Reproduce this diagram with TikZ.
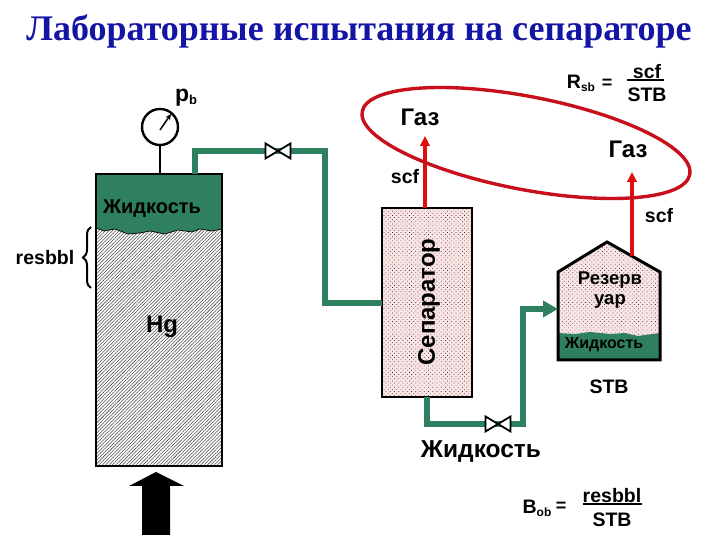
\documentclass[tikz,border=0pt]{standalone}
\usepackage{fontspec}
\setmainfont{Liberation Sans}
\newfontfamily\titlefont{Liberation Serif}
\usetikzlibrary{patterns.meta,arrows.meta,decorations.pathreplacing}
\definecolor{liquid}{RGB}{46,128,94}
\definecolor{gasred}{RGB}{220,16,16}
\definecolor{ringred}{RGB}{200,16,28}
\definecolor{vessel}{RGB}{250,228,228}
\definecolor{titleblue}{RGB}{20,20,165}
\tikzset{
  pipe/.style={draw=liquid,line width=5.5pt,line join=miter},
  gasline/.style={draw=gasred,line width=3.5pt,-{Triangle[length=10pt,width=9.5pt]}},
  wall/.style={draw=black,line width=1.2pt},
  lab/.style={inner sep=0pt,font=\bfseries\fontsize{#1}{#1}\selectfont},
  lab/.default=19.5,
  hatched/.style={pattern={Lines[angle=45,distance=2.4pt,line width=.55pt]},pattern color=black!70},
  dotted fill/.style={pattern={Dots[angle=45,distance=3pt,radius=.5pt]},pattern color=black!80},
  bowtie/.style={draw=black,fill=white,line width=1.8pt},
}
\newcommand{\valve}[1]{%
  \draw[bowtie] (#1) ++(-12.5,7.5) -- ++(25,-15) -- ++(0,15) -- ++(-25,-15) -- cycle;}
\begin{document}
\begin{tikzpicture}[x=1pt,y=1pt]
\useasboundingbox (0,0) rectangle (720,540);

% test cell
\coordinate (celltl) at (96,366);
\coordinate (cellbr) at (222,74);
\coordinate (gauge) at (160,413);
\fill[white] (celltl) rectangle (cellbr);
\fill[hatched] (celltl) rectangle (cellbr);
\fill[liquid] (96,366) -- (222,366) -- (222,311) -- (212,309) -- (200,311) -- (192,308) -- (178,310)
  -- (165,306) -- (150,309) -- (140,307) -- (128,306) -- (115,311) -- (104,309) -- (96,312) -- cycle;
\draw[black,line width=.7pt] (222,311) -- (212,309) -- (200,311) -- (192,308) -- (178,310)
  -- (165,306) -- (150,309) -- (140,307) -- (128,306) -- (115,311) -- (104,309) -- (96,312);
\draw[wall] (celltl) rectangle (cellbr);

% gauge
\node[circle,draw=black,line width=2.4pt,minimum size=36pt,inner sep=0pt] (dial) at (gauge) {};
\coordinate (cellneck) at (160,366);
\draw[line width=2.4pt] (dial.south) -- (cellneck);
\coordinate (needle) at (160,410);
\coordinate (needletip) at (171,426);
\draw[line width=1.5pt,-{Stealth[length=6pt,width=5.5pt]}] (needle) -- (needletip);
\node[lab=23] (pb) at (186,442) {p\raisebox{-3pt}{\fontsize{13}{13}\selectfont b}};

% separator and tank
\coordinate (septl) at (382,332);
\coordinate (sepbr) at (472,143);
\fill[vessel] (septl) rectangle (sepbr);
\fill[dotted fill] (septl) rectangle (sepbr);
\draw[wall,line width=1.6pt] (septl) rectangle (sepbr);
\node[lab=24,rotate=90] (sep) at (429,238) {Сепаратор};

\coordinate (tanka) at (558,180);
\coordinate (tankb) at (558,268);
\coordinate (tankc) at (607,298);
\coordinate (tankd) at (660,268);
\coordinate (tanke) at (660,180);
\fill[vessel] (tanka) -- (tankb) -- (tankc) -- (tankd) -- (tanke) -- cycle;
\fill[dotted fill] (tanka) -- (tankb) -- (tankc) -- (tankd) -- (tanke) -- cycle;
\fill[liquid] (tanka) -- (558,207) -- (575,206) -- (590,208) -- (610,206) -- (625,207) -- (638,204) -- (660,207) -- (tanke) -- cycle;
\draw[line width=3pt,line join=miter] (tanka) -- (tankb) -- (tankc) -- (tankd) -- (tanke) -- cycle;
\node[lab=18.5] (res1) at (610,260) {Резерв};
\node[lab=18.5] (res2) at (610,239) {уар};
\node[lab=16] (resliq) at (604,195) {Жидкость};

% pipes
\coordinate (p1) at (195,366);
\coordinate (p2) at (195,389);
\coordinate (p3) at (325,389);
\coordinate (p4) at (325,237);
\coordinate (p5) at (382,237);
\draw[pipe] (p1) -- (p2) -- (p3) -- (p4) -- (p5);
\valve{278,389}

\coordinate (q1) at (427,143);
\coordinate (q2) at (427,116);
\coordinate (q3) at (523,116);
\coordinate (q4) at (523,231);
\coordinate (q5) at (558,231);
\draw[pipe,-{Triangle[length=15pt,width=16pt]}] (q1) -- (q2) -- (q3) -- (q4) -- (q5);
\valve{498,116}

% gas
\coordinate (g1) at (425,332);
\coordinate (g2) at (425,404);
\coordinate (h1) at (632,284);
\coordinate (h2) at (632,368);
\draw[gasline] (g1) -- (g2);
\draw[gasline] (h1) -- (h2);
\draw[ringred,line width=3.4pt,rotate around={-10.9:(526,397)}] (526,397) ellipse (166.8 and 46.5);

% feed arrow
\coordinate (feed) at (156,68);
\fill[black] (142,5) -- (142,54) -- (129,54) -- (156,68) -- (184,54) -- (170,54) -- (170,5) -- cycle;

% brace
\coordinate (bracea) at (91,313);
\coordinate (braceb) at (91,252);
\draw[line width=2pt,decorate,decoration={brace,amplitude=8pt}] (braceb) -- (bracea);

% labels
\node[font=\titlefont\bfseries\fontsize{36}{36}\selectfont,text=titleblue,inner sep=0pt] (title) at (359,509) {Лабораторные испытания на сепараторе};
\node[lab=24] (gas1) at (420,423) {Газ};
\node[lab=24] (gas2) at (628,391) {Газ};
\node[lab] (scf1) at (405,363) {scf};
\node[lab] (scf2) at (659,324) {scf};
\node[lab=20] (liq1) at (152,331) {Жидкость};
\node[lab] (resbbl) at (45,282) {resbbl};
\node[lab=24] (hg) at (162,213) {Hg};
\node[lab] (stb1) at (609,153) {STB};
\node[lab=24.5] (liq2) at (481,88) {Жидкость};

\node[lab] (rsb) at (581,457) {R\raisebox{-3pt}{\fontsize{12}{12}\selectfont sb}};
\node[lab=18] (eq1) at (607,456) {=};
\node[lab] (fr1) at (647,468) {scf};
\node[lab] (fr2) at (647,445) {STB};
\coordinate (bar1a) at (627,460);
\coordinate (bar1b) at (664,460);
\draw[line width=1.3pt] (bar1a) -- (bar1b);

\node[lab] (bob) at (537,32) {B\raisebox{-3pt}{\fontsize{12}{12}\selectfont ob}};
\node[lab=18] (eq2) at (561,33) {=};
\node[lab] (fr3) at (612,44) {resbbl};
\node[lab] (fr4) at (612,20) {STB};
\coordinate (bar2a) at (583,36);
\coordinate (bar2b) at (642,36);
\draw[line width=1.3pt] (bar2a) -- (bar2b);
\end{tikzpicture}
\end{document}
